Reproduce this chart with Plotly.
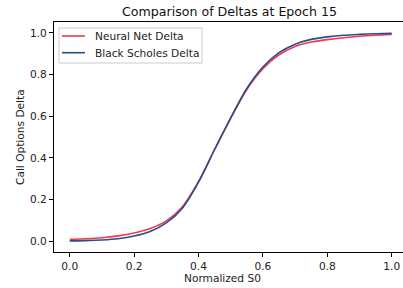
import plotly.graph_objects as go

s0 = [0.0, 0.05, 0.10, 0.15, 0.20, 0.25, 0.30, 0.35, 0.40, 0.45, 0.50,
      0.55, 0.60, 0.65, 0.70, 0.75, 0.80, 0.85, 0.90, 0.95, 1.00]
nn_delta = [0.008, 0.011, 0.016, 0.025, 0.039, 0.060, 0.097, 0.165, 0.285, 0.440, 0.590,
            0.728, 0.828, 0.895, 0.935, 0.956, 0.968, 0.977, 0.984, 0.989, 0.993]
bs_delta = [0.001, 0.002, 0.005, 0.011, 0.024, 0.046, 0.087, 0.158, 0.283, 0.440, 0.592,
            0.733, 0.836, 0.905, 0.946, 0.969, 0.981, 0.989, 0.993, 0.996, 0.998]
tick_vals = [0.0, 0.2, 0.4, 0.6, 0.8, 1.0]
tick_text = ["0.0", "0.2", "0.4", "0.6", "0.8", "1.0"]
series_names = ["Neural Net Delta", "Black Scholes Delta"]
series_colors = ["#ee3a4a", "#2a4c8c"]

FONT = "DejaVu Sans"
FS = 10.6
W, H = 403, 288
L, R, T, B = 54, 0, 22, 36
PW, PH = W - L - R, H - T - B


def px(x):
    return (x - L) / PW


def py(y):
    return (H - B - y) / PH


fig = go.Figure()
for name, ys, col in zip(series_names, [nn_delta, bs_delta], series_colors):
    fig.add_trace(go.Scatter(x=s0, y=ys, mode="lines", name=name, showlegend=False,
                             line=dict(color=col, width=1.6, shape="spline", smoothing=0.8)))

axis_common = dict(showgrid=False, zeroline=False, showline=True, linecolor="#000",
                   linewidth=1, ticks="outside", ticklen=4, tickwidth=1, tickcolor="#000",
                   tickvals=tick_vals, ticktext=tick_text, automargin=False,
                   tickfont=dict(family=FONT, size=FS, color="#222"))

# legend drawn as frame + sample lines + text
shapes = [dict(type="rect", xref="paper", yref="paper", x0=px(59), x1=px(202),
               y0=py(63), y1=py(28), line=dict(color="#cccccc", width=1),
               fillcolor="rgba(255,255,255,0.8)", layer="above")]
annotations = []
for i, (name, col) in enumerate(zip(series_names, series_colors)):
    yy = 36 + i * 16.7
    shapes.append(dict(type="line", xref="paper", yref="paper", x0=px(62), x1=px(85),
                       y0=py(yy), y1=py(yy), line=dict(color=col, width=1.6), layer="above"))
    annotations.append(dict(text=name, xref="paper", yref="paper", x=px(92.5), y=py(yy),
                            xanchor="left", yanchor="middle", showarrow=False,
                            font=dict(family=FONT, size=FS, color="#222")))

annotations.append(dict(text="Normalized S0", xref="paper", yref="paper", x=px(222), y=py(278),
                        xanchor="center", yanchor="middle", showarrow=False,
                        font=dict(family=FONT, size=FS, color="#222")))
annotations.append(dict(text="Call Options Delta", xref="paper", yref="paper", x=px(20), y=py(137),
                        xanchor="center", yanchor="middle", showarrow=False, textangle=-90,
                        font=dict(family=FONT, size=FS, color="#222")))

fig.update_layout(
    width=W, height=H,
    margin=dict(l=L, r=R, t=T, b=B, autoexpand=False),
    plot_bgcolor="white", paper_bgcolor="white",
    title=dict(text="Comparison of Deltas at Epoch 15", x=229.5 / W, xanchor="center",
               xref="container", yref="container", y=1 - 12 / H, yanchor="middle",
               font=dict(family=FONT, size=12.6, color="#111")),
    xaxis=dict(range=[-0.0488, 1.0351], mirror=True, **axis_common),
    yaxis=dict(range=[-0.0525, 1.0525], **axis_common),
    shapes=shapes,
    annotations=annotations,
    showlegend=False,
)

fig.write_html("out.html", config={"displayModeBar": False},
               post_script="document.body.style.margin='0';document.body.style.overflow='hidden';")
